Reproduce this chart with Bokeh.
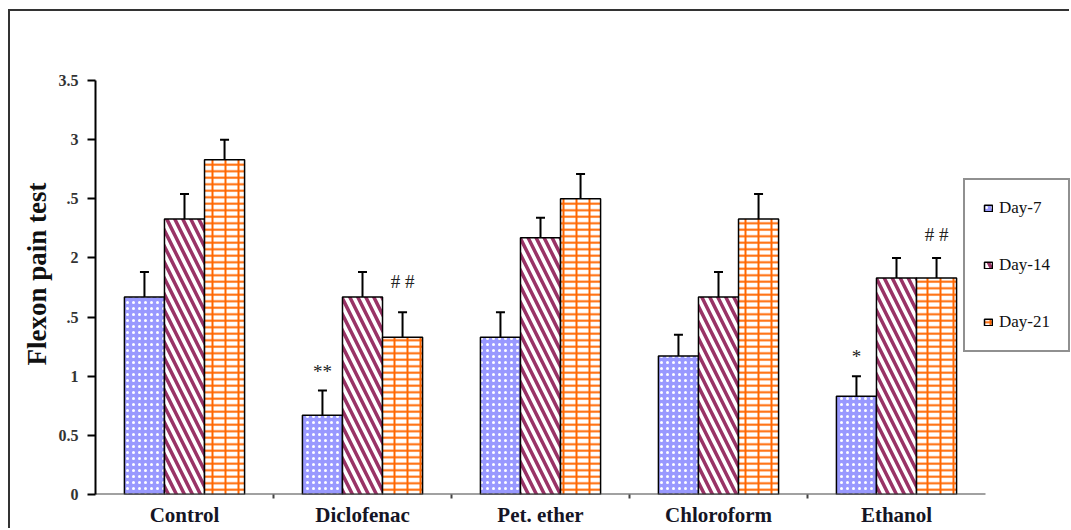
from bokeh.plotting import figure
from bokeh.models import (ColumnDataSource, Whisker, TeeHead, Legend, LegendItem,
                          FixedTicker, Range1d, Title)
from bokeh.core.properties import value
from bokeh.embed import file_html
from bokeh.resources import INLINE

# ---------------- data ----------------
groups = ["Control", "Diclofenac", "Pet. ether", "Chloroform", "Ethanol"]
series = ["Day-7", "Day-14", "Day-21"]
day7 = [1.67, 0.67, 1.33, 1.17, 0.83]
day14 = [2.33, 1.67, 2.17, 1.67, 1.83]
day21 = [2.83, 1.33, 2.50, 2.33, 1.83]
err7 = [0.21, 0.21, 0.21, 0.18, 0.17]
err14 = [0.21, 0.21, 0.17, 0.21, 0.17]
err21 = [0.17, 0.21, 0.21, 0.21, 0.17]
y_ticks = [0, 0.5, 1, 1.5, 2, 2.5, 3, 3.5]
y_tick_labels = ["0", "0.5", "1", ".5", "2", ".5", "3", "3.5"]
y_title = "Flexon pain test"
marks = ["**", "# #", "*", "# #"]
mark_group = [1, 1, 4, 4]
mark_series = [0, 2, 0, 2]
mark_y = [1.04, 1.80, 1.17, 2.20]

# ---------------- layout ----------------
BAR_W = 0.225
SERIF = "Liberation Serif"
W, H = 1061, 519
FRAME_L, FRAME_T, FRAME_B = 85, 69, 483
px_per_group = 178.0
x_end = (W - FRAME_L) / px_per_group

p = figure(width=W, height=H, output_backend="svg", toolbar_location=None,
           x_range=Range1d(0, x_end), y_range=Range1d(0, 3.5),
           min_border_left=FRAME_L, min_border_right=0, min_border_top=FRAME_T,
           min_border_bottom=H - FRAME_B)
p.styles = {"margin-left": "8px", "margin-top": "9px",
            "border-left": "2px solid #333333", "border-top": "2px solid #333333"}
p.outline_line_color = None
p.xgrid.visible = False
p.ygrid.visible = False
p.background_fill_color = "white"
p.border_fill_color = "white"

def xs(j):
    return [i + 0.5 + (j - 1) * BAR_W for i in range(len(groups))]

vals = [day7, day14, day21]
errs = [err7, err14, err21]
srcs = []
for j in range(3):
    srcs.append(ColumnDataSource(dict(
        x=xs(j), top=vals[j],
        upper=[v + e for v, e in zip(vals[j], errs[j])],
        lower=[v - e for v, e in zip(vals[j], errs[j])])))

r7 = p.vbar(x="x", top="top", width=BAR_W, source=srcs[0], fill_color="#9999FF",
            line_color="black", line_width=1.5, hatch_pattern="dot",
            hatch_color="white", hatch_scale=6, hatch_weight=1.5)
r14 = p.vbar(x="x", top="top", width=BAR_W, source=srcs[1], fill_color="white",
             line_color="black", line_width=1.5, hatch_pattern="left_diagonal_line",
             hatch_color="#993366", hatch_scale=16, hatch_weight=3.5)
r21a = p.vbar(x="x", top="top", width=BAR_W, source=srcs[2], fill_color="white",
              line_color=None, hatch_pattern="horizontal_line",
              hatch_color="#FF6600", hatch_scale=6.5, hatch_weight=2)
r21b = p.vbar(x="x", top="top", width=BAR_W, source=srcs[2], fill_alpha=0,
              line_color="black", line_width=1.5, hatch_pattern="vertical_line",
              hatch_color="#FF6600", hatch_scale=13, hatch_weight=2)

for s in srcs:
    w = Whisker(base="x", upper="upper", lower="lower", source=s,
                line_color="black", line_width=2,
                upper_head=TeeHead(size=9, line_color="black", line_width=2),
                lower_head=TeeHead(size=9, line_color="black", line_width=2))
    p.add_layout(w)

# x-axis baseline (only over the category span)
p.segment(x0=[0], y0=[0], x1=[len(groups)], y1=[0], line_color="#444444",
          line_width=2)

# significance marks
mx = [g + 0.5 + (sj - 1) * BAR_W for g, sj in zip(mark_group, mark_series)]
p.text(x=mx, y=mark_y, text=marks, text_align="center", text_baseline="middle",
       text_font=value(SERIF), text_font_size="19px", text_color="#222222")

# ---------------- axes ----------------
p.yaxis.ticker = FixedTicker(ticks=y_ticks)
p.yaxis.major_label_overrides = {t: l for t, l in zip(y_ticks, y_tick_labels)}
p.yaxis.minor_tick_line_color = None
p.yaxis.major_tick_out = 8
p.yaxis.major_tick_in = 0
p.yaxis.major_tick_line_width = 2
p.yaxis.axis_line_width = 2
p.yaxis.axis_line_color = "black"
p.yaxis.major_label_text_font = SERIF
p.yaxis.major_label_text_font_style = "bold"
p.yaxis.major_label_text_font_size = "16px"
p.yaxis.major_label_text_color = "#333333"
p.yaxis.major_label_standoff = 9

# y title as a side title so it can be nudged along the axis
p.add_layout(Title(text=y_title, align="left", offset=129, standoff=7,
                   text_font=SERIF, text_font_style="bold",
                   text_font_size="27px", text_color="#111111"), "left")

centers = [i + 0.5 for i in range(len(groups))]
p.xaxis.ticker = FixedTicker(ticks=centers,
                             minor_ticks=[float(i) for i in range(1, len(groups))])
p.xaxis.major_label_overrides = {c: g for c, g in zip(centers, groups)}
p.xaxis.major_tick_out = 0
p.xaxis.major_tick_in = 0
p.xaxis.minor_tick_out = 4
p.xaxis.minor_tick_in = 0
p.xaxis.minor_tick_line_width = 2
p.xaxis.minor_tick_line_color = "#444444"
p.xaxis.axis_line_color = None
p.xaxis.major_label_text_font = SERIF
p.xaxis.major_label_text_font_style = "bold"
p.xaxis.major_label_text_font_size = "21px"
p.xaxis.major_label_text_color = "#151525"
p.xaxis.major_label_standoff = 4

# ---------------- legend ----------------
legend = Legend(items=[LegendItem(label=series[0], renderers=[r7]),
                       LegendItem(label=series[1], renderers=[r14]),
                       LegendItem(label=series[2], renderers=[r21a, r21b])],
                location=(868, 142), orientation="vertical",
                glyph_width=10, glyph_height=8, label_height=17,
                label_standoff=6, spacing=37, padding=18, margin=0,
                label_text_font=SERIF, label_text_font_size="17px",
                label_text_color="#111111",
                border_line_color="#222222", border_line_width=2,
                background_fill_color="white", background_fill_alpha=1)
p.add_layout(legend, "center")

open("out.html", "w").write(file_html(p, INLINE))
